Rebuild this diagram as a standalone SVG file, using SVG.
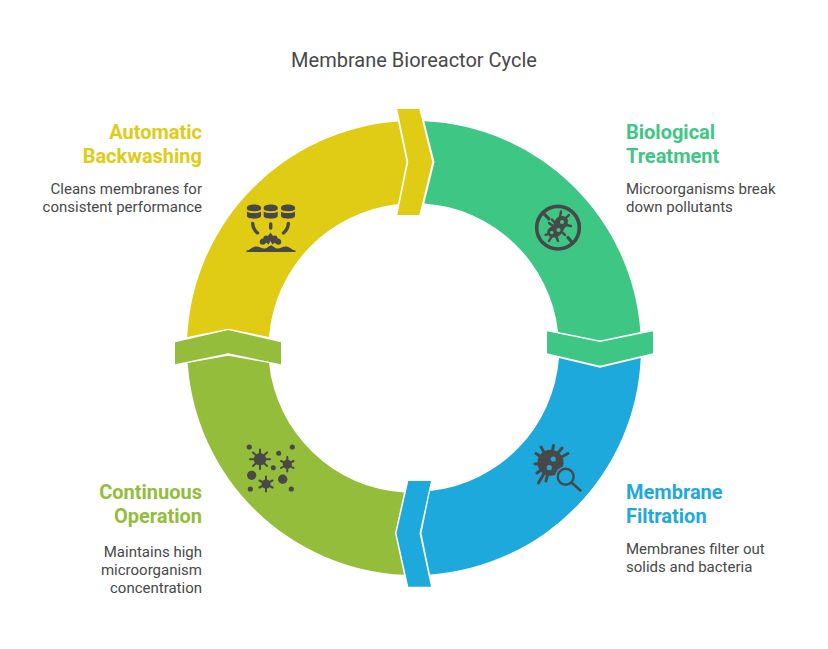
<svg xmlns="http://www.w3.org/2000/svg" width="828" height="649" viewBox="0 0 828 649">
<style>
text{font-family:Roboto,"Liberation Sans",sans-serif;fill:#484848}
.title{font-size:20px;text-anchor:middle}
.h{font-size:20px;font-weight:700}
.d{font-size:15px}
.e{text-anchor:end}
.yl{fill:#E0CB15}.gr{fill:#3EC685}.bl{fill:#1EA9DC}.ol{fill:#93BD3A}
.ic{fill:#484848;stroke:none}
.ln{fill:none;stroke:#484848;stroke-linecap:round}
</style>
<rect width="828" height="649" fill="#fff"/>
<text class="title" x="414" y="67">Membrane Bioreactor Cycle</text>
<g id="connectors">
<polygon class="yl" points="397.3,109 419.3,109 432.3,162 419.3,215 397.3,215 408.3,162"/>
<polygon class="gr" points="547,331.3 600,342 653,331.3 653,353.3 600,365.7 547,353.3"/>
<polygon class="bl" points="408.3,481 431,481 419.5,533.3 431,586.7 408.3,586.7 396.5,533.3"/>
<polygon class="ol" points="175,342.3 228.3,330 281,342.3 281,364.3 228.3,353.3 175,364.3"/>
</g>
<g id="biological-treatment">
<path class="gr" d="M424.3,121.2A227,227 0 0 1 640.4,332L600,340.5L558.1,332A145,145 0 0 0 424.3,203.4L434.5,162Z"/>
<text class="h" x="626" y="139" style="fill:#3EC685">Biological</text>
<text class="h" x="626" y="163" style="fill:#3EC685">Treatment</text>
<text class="d" x="626" y="194">Microorganisms break</text>
<text class="d" x="626" y="212">down pollutants</text>
<circle cx="558" cy="227.7" r="21.3" fill="none" stroke="#484848" stroke-width="3.6"/>
<path class="ln" stroke-width="3.2" d="M543.5,213.3L549,218.8M568,237.5L572.5,243"/>
<path class="ln" stroke-width="2.4" d="M561,211.5L560,217M569,215L565,219M571,226L566,225M552,219.5L555,223M549,223L553,226M545.5,235L550,233M549,241L552,236M558,241L556,236M565,235L562,232"/>
<path class="ic" d="M562,216C567,216 569,220 567.5,224C566.5,227 564,228 563,231C561.5,235 557,238 552.5,237.5C548,237 546,233 548,229.5C549.5,227 552.5,227 553.5,224.5C555,220 557,216 562,216Z"/>
<circle cx="562" cy="222" r="2.1" fill="#3EC685"/><circle cx="558.5" cy="230" r="2.1" fill="#3EC685"/><circle cx="551.8" cy="232.5" r="1.7" fill="#3EC685"/>
</g>
<g id="membrane-filtration">
<path class="bl" d="M640.7,358A227,227 0 0 1 430,574.4L421.5,533.3L430,491.1A145,145 0 0 0 559,358L600,367.7Z"/>
<text class="h" x="626" y="499" style="fill:#1EA9DC">Membrane</text>
<text class="h" x="626" y="523" style="fill:#1EA9DC">Filtration</text>
<text class="d" x="626" y="554">Membranes filter out</text>
<text class="d" x="626" y="572">solids and bacteria</text>
<path class="ln" stroke-width="3" d="M550,463L553.5,445.5M550,463L562,448M550,463L568,453.5M550,463L541,447M550,463L536,453.5M550,463L535,464M550,463L537,473M550,463L538.5,483M550,463L546,481"/>
<circle class="ic" cx="550.5" cy="462.7" r="13"/>
<circle cx="553.3" cy="459" r="2.6" fill="#1EA9DC"/><circle cx="549.3" cy="467.7" r="2.6" fill="#1EA9DC"/>
<circle cx="565.7" cy="476.7" r="10.5" fill="#1EA9DC"/>
<circle cx="565.7" cy="476.7" r="8" fill="none" stroke="#484848" stroke-width="2.4"/>
<path class="ln" stroke-width="2.6" d="M571.5,482.5L580.5,490.5"/>
</g>
<g id="continuous-operation">
<path class="ol" d="M404,574.8A227,227 0 0 1 187.7,363L228.3,355.7L269,363A145,145 0 0 0 404,492.6L395,533.3Z"/>
<text class="h e" x="202" y="499" style="fill:#93BD3A">Continuous</text>
<text class="h e" x="202" y="523" style="fill:#93BD3A">Operation</text>
<text class="d e" x="202" y="557">Maintains high</text>
<text class="d e" x="202" y="575">microorganism</text>
<text class="d e" x="202" y="593">concentration</text>
<path class="ln" stroke-width="2" d="M260,459.3V449.5M260,459.3V469M260,459.3H250M260,459.3H270M260,459.3L253,452.5M260,459.3L267,452.5M260,459.3L253,466M260,459.3L267,466M287.3,464.3V457M287.3,464.3V471.5M287.3,464.3L281,461M287.3,464.3L293.5,461M287.3,464.3L281,468M287.3,464.3L293.5,468M266,484V476.5M266,484V491.5M266,484L259.5,480.5M266,484L272.5,480.5M266,484L259.5,487.5M266,484L272.5,487.5"/>
<circle class="ic" cx="260" cy="459.3" r="6.2"/><circle class="ic" cx="287.3" cy="464.3" r="4.5"/><circle class="ic" cx="266" cy="484" r="4.5"/>
<circle class="ic" cx="249.3" cy="447" r="2.6"/><circle class="ic" cx="292.3" cy="447" r="2.6"/><circle class="ic" cx="278.7" cy="453.3" r="2.5"/><circle class="ic" cx="273.3" cy="467.7" r="2.5"/><circle class="ic" cx="251.7" cy="475.3" r="4.6"/><circle class="ic" cx="282.7" cy="479.3" r="4.7"/><circle class="ic" cx="250.3" cy="489" r="2.6"/><circle class="ic" cx="291.3" cy="489" r="2.6"/>
</g>
<g id="automatic-backwashing">
<path class="yl" d="M187.2,337A227,227 0 0 1 398,121.6L406.5,162L398,204.1A145,145 0 0 0 269,337L228.3,328.7Z"/>
<text class="h e" x="202" y="139" style="fill:#E0CB15">Automatic</text>
<text class="h e" x="202" y="163" style="fill:#E0CB15">Backwashing</text>
<text class="d e" x="202" y="194">Cleans membranes for</text>
<text class="d e" x="202" y="212">consistent performance</text>
<g class="ic">
<path d="M247,207.5C247,203.5 261,203.5 261,207.5V209C261,212 247,212 247,209ZM247,211.5C250,213.5 258,213.5 261,211.5V216C261,219.5 247,219.5 247,216Z"/>
<path d="M263.7,207.5C263.7,203.5 277.7,203.5 277.7,207.5V209C277.7,212 263.7,212 263.7,209ZM263.7,211.5C266.7,213.5 274.7,213.5 277.7,211.5V216C277.7,219.5 263.7,219.5 263.7,216Z"/>
<path d="M281,207.5C281,203.5 295,203.5 295,207.5V209C295,212 281,212 281,209ZM281,211.5C284,213.5 292,213.5 295,211.5V216C295,219.5 281,219.5 281,216Z"/>
<path d="M260,243.5C259,240 261,238.5 263.5,238.5C263,236 266,234.5 268,236L270.5,232.5L273,236C275,234.5 278,236 277.5,238.5C280,238.5 282,240 281,243.5C279,245.5 276,245 275,242.5L272.5,244.5L270.5,241L268.5,244.5L266,242.5C265,245 262,245.5 260,243.5Z"/>
<path d="M246.5,250.5C250,250.5 252,246.5 256,246.5C260,246.5 262,249 265,248.5C268,248 269,245.5 271,245.5C273,245.5 274,248 277,248.5C280,249 282,246.5 286,246.5C290,246.5 292,250.5 295.5,250.5V252H246.5Z"/>
</g>
<path class="ln" stroke-width="3.4" d="M252.7,223.5C253,228 255,231 257.5,233M270.7,224V228M288.3,223.5C288,228 286,231 283.5,233"/>
</g>
</svg>
